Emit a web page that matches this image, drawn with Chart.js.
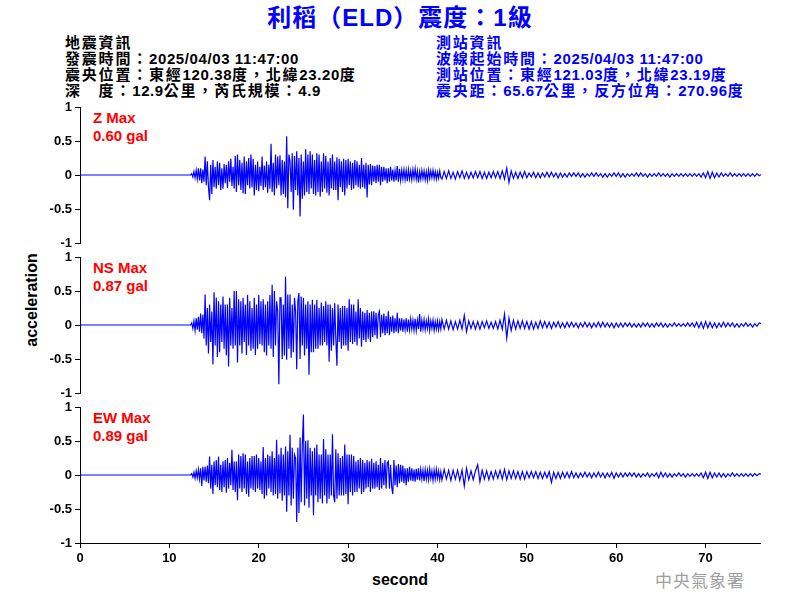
<!DOCTYPE html>
<html><head><meta charset="utf-8">
<script src="https://cdn.jsdelivr.net/npm/chart.js@4/dist/chart.umd.min.js"></script>
<style>
body{margin:0;background:#fff;}
#wrap{position:relative;width:800px;height:600px;overflow:hidden;background:#fff;font-family:"Liberation Sans",Arial,"Noto Sans CJK TC",sans-serif;}
.t{position:absolute;white-space:nowrap;}
.hd{font-size:15px;font-weight:bold;line-height:16px;letter-spacing:0.6px;}
.c{letter-spacing:1.8px;}
.red{color:#ff0000;font-size:15px;font-weight:bold;line-height:18px;left:93px;}
canvas{position:absolute;left:0;}
</style></head><body>
<div id="wrap">
<div class="t" style="left:0;width:800px;text-align:center;top:4px;font-size:24px;font-weight:bold;color:#0000ff;line-height:28px;letter-spacing:1px;">利稻（ELD）震度：1級</div>
<div class="t hd" style="left:65px;top:35px;color:#000;"><span class="c">地震資訊</span><br><span class="c">發震時間：</span>2025/04/03 11:47:00<br><span class="c">震央位置：東經</span>120.38<span class="c">度，北緯</span>23.20<span class="c">度</span><br><span class="c">深　度：</span>12.9<span class="c">公里，芮氏規模：</span>4.9</div>
<div class="t hd" style="left:436px;top:35px;color:#0000ff;"><span class="c">測站資訊</span><br><span class="c">波線起始時間：</span>2025/04/03 11:47:00<br><span class="c">測站位置：東經</span>121.03<span class="c">度，北緯</span>23.19<span class="c">度</span><br><span class="c">震央距：</span>65.67<span class="c">公里，反方位角：</span>270.96<span class="c">度</span></div>
<div class="t red" style="top:109px;">Z Max<br>0.60 gal</div>
<div class="t red" style="top:259px;">NS Max<br>0.87 gal</div>
<div class="t red" style="top:409px;">EW Max<br>0.89 gal</div>
<div class="t" style="left:32px;top:300px;transform:translate(-50%,-50%) rotate(-90deg);font-size:16px;font-weight:bold;">acceleration</div>
<div class="t" style="left:400px;top:580px;transform:translate(-50%,-50%);font-size:16px;font-weight:bold;">second</div>
<div class="t" style="left:655px;top:569px;font-size:17px;color:#a0a0a0;font-family:'Noto Sans CJK TC';letter-spacing:1px;line-height:22px;">中央氣象署</div>
<canvas id="c1" width="761" height="160" style="top:95px"></canvas>
<canvas id="c2" width="761" height="160" style="top:245px"></canvas>
<canvas id="c3" width="761" height="205" style="top:395px"></canvas>
</div>
<script>
// sample timing of the traces (seconds)
const EARLY_T0 = 12.5, EARLY_DT = 0.125;   // strong-motion part, 12.5 s .. 40.375 s
const LATE_T0 = 40.5, LATE_DT = 0.25;      // coda, 40.5 s .. 76.25 s
const X_MAX = 76.2;
const xTickValues = [0,10,20,30,40,50,60,70];
const yTickValues = [-1,-0.5,0,0.5,1];

// Z component (gal) — one group of 8 = one second
const zEarly = [
 .02,-.03,.05,-.04,.07,-.06,.1,-.08,  .1,-.12,.08,-.1,.27,-.15,.2,-.18,
 -.37,.15,-.28,.22,-.18,.12,-.2,.2,  -.15,.18,-.22,.1,-.2,.16,-.12,.15,
 -.19,.2,-.1,.24,-.16,.12,-.2,.28,  -.25,.3,-.15,.22,-.22,.18,-.27,.27,
 -.28,.2,-.15,.25,-.2,.3,-.18,.24,  -.3,.15,-.22,.2,-.24,.12,-.16,.27,
 -.22,.14,-.18,.2,-.26,.15,-.2,.46,  -.25,.18,-.3,.3,-.2,.27,-.15,.29,
 -.3,.22,-.28,.2,-.33,.57,-.49,.3,  .2,-.25,.32,-.51,.28,-.22,.35,-.3,
 .25,-.61,.3,-.35,.2,-.3,.38,-.25,  .3,-.28,.35,-.2,.3,-.28,.22,-.3,
 .32,-.25,.3,-.32,.2,-.25,.32,-.2,  .28,-.26,.2,-.3,.25,-.2,.3,-.22,
 .2,-.22,.26,-.37,.24,-.18,.2,-.25,  .24,-.3,.22,-.2,.24,-.15,.2,-.22,
 .18,-.2,.22,-.15,.2,-.18,.15,-.2,  .25,-.18,.15,-.2,.18,-.33,.15,-.14,
 .16,-.15,.14,-.1,.13,-.12,.15,-.1,  .15,-.15,.12,-.1,.12,-.08,.1,-.12,
 .1,-.1,.12,-.08,.08,-.1,.07,-.08,  .13,-.1,.09,-.08,.07,-.06,.08,-.07,
 .07,-.09,.08,-.06,.06,-.07,.08,-.05,  .09,-.06,.06,-.11,.05,-.06,.07,-.05,
 .06,-.07,.05,-.08,.07,-.05,.06,-.04,  .07,-.05,.05,-.06,.04,-.05,.06,-.04
];
const zLate = [
 -.06,.05,-.05,.06, -.05,.04,-.06,.05, -.04,.06,-.05,.04, -.05,.04,-.04,.05,
 -.04,.05,-.05,.04, -.05,.04,-.04,.05, -.04,.05,-.05,.06, -.06,.1,-.11,.06,
 -.05,.04,-.05,.04, -.04,.05,-.04,.03, -.03,.04,-.04,.03, -.04,.03,-.03,.04,
 -.03,.04,-.03,.03, -.04,.03,-.03,.02, -.03,.03,-.02,.03, -.02,.03,-.03,.02,
 -.03,.02,-.02,.03, -.02,.03,-.02,.02, -.03,.02,-.03,.02, -.02,.03,-.02,.03,
 -.03,.02,-.03,.02, -.02,.02,-.02,.03, -.02,.03,-.02,.02, -.03,.02,-.02,.02,
 -.02,.03,-.02,.02, -.02,.02,-.03,.02, -.02,.02,-.02,.02, -.02,.02,-.02,.02,
 -.02,.02,-.02,.02, -.03,.03,-.04,.05, -.05,.04,-.04,.03, -.03,.03,-.02,.02,
 -.02,.03,-.02,.02, -.02,.02,-.02,.02, -.02,.02,-.02,.02, -.02,.02,-.01,.01
];

// NS component (gal)
const nsEarly = [
 .03,-.05,.06,-.08,.1,-.07,.12,-.1,  .17,-.12,.15,-.2,.45,-.3,.25,-.42,
 .3,-.25,.2,-.58,.48,-.3,.4,-.47,  .35,-.4,.3,-.25,.42,-.35,.3,-.45,
 .3,-.61,.4,-.3,.25,-.35,.5,-.3,  .5,-.55,.38,-.3,.35,-.42,.4,-.25,
 .3,-.44,.44,-.3,.35,-.38,.25,-.35,  .4,-.44,.3,-.35,.44,-.28,.35,-.3,
 .38,-.4,.3,-.45,.35,-.3,.44,-.35,  .59,-.47,.5,-.3,.35,.2,-.87,.4,
 .4,-.5,.3,-.45,.71,-.51,.45,-.35,  .45,-.48,.3,-.4,.4,.2,-.65,.35,
 .47,-.5,.42,-.3,.4,-.45,.3,-.35,  .35,-.73,.3,-.4,.37,-.4,.3,-.35,
 .37,-.35,.25,-.3,.33,-.3,.28,-.25,  .35,-.3,.3,-.54,.3,-.38,.25,-.3,
 .32,-.2,-.6,.3,-.25,.25,-.35,.28,  -.3,.28,-.3,.25,-.38,.38,-.25,.3,
 -.28,.3,-.25,.2,-.3,.38,-.2,.25,  -.32,.2,-.22,.18,-.25,.22,-.2,.18,
 -.25,.2,-.18,.2,-.15,.18,-.2,.15,  .2,-.18,.15,-.12,.17,-.15,.13,-.12,
 .2,-.15,.12,-.1,.14,-.12,.1,-.1,  .18,-.12,.1,-.08,.1,-.1,.08,-.07,
 .1,-.1,.08,-.07,.09,-.06,.07,-.08,  .09,-.08,.07,-.06,.16,-.1,.07,-.06,
 .08,-.07,.06,-.05,.09,-.08,.06,-.05,  .07,-.08,.05,-.06,.06,-.07,.05,-.06
];
const nsLate = [
 .08,-.06,.07,-.06, .06,-.07,.05,-.06, .07,-.06,.14,-.1, .06,-.05,.05,-.06,
 .05,-.06,.05,-.04, .06,-.05,.04,-.05, .05,-.06,.07,-.06, .16,-.19,.1,-.08,
 .07,-.06,.06,-.05, .06,-.05,.05,-.06, .05,-.06,.04,-.05, .06,-.04,.05,-.04,
 .04,-.05,.04,-.03, .05,-.04,.03,-.04, .04,-.03,.04,-.03, .03,-.04,.03,-.03,
 .04,-.03,.03,-.04, .03,-.03,.04,-.03, .04,-.03,.03,-.03, .03,-.04,.03,-.03,
 .03,-.03,.03,-.02, .03,-.03,.02,-.03, .02,-.03,.03,-.02, .03,-.03,.02,-.03,
 .03,-.02,.03,-.03, .02,-.03,.02,-.02, .03,-.02,.02,-.02, .02,-.02,.03,-.02,
 .03,-.03,.04,-.04, .04,-.05,.05,-.04, .04,-.04,.03,-.04, .03,-.03,.04,-.03,
 .03,-.02,.03,-.03, .02,-.03,.02,-.02, .03,-.02,.02,-.03, .02,-.02,.03,.02
];

// EW component (gal)
const ewEarly = [
 .02,-.03,.04,-.05,.06,-.04,.08,-.06,  .1,-.16,.12,-.08,.12,-.1,.14,-.12,
 .27,-.2,.15,-.28,.2,-.15,.22,-.18,  .27,-.22,.15,-.25,.2,-.18,.22,-.26,
 .25,-.2,.18,-.15,.37,-.22,.2,-.25,  .2,-.37,.3,-.2,.28,-.25,.32,-.2,
 .3,-.28,.2,-.32,.25,-.2,.28,-.22,  .28,-.25,.3,-.2,.25,-.22,.2,-.28,
 .41,-.35,.25,-.3,.3,-.2,.28,-.25,  .35,-.3,.25,-.28,.52,-.35,.3,-.27,
 .4,-.38,.3,-.3,.42,-.54,.35,-.3,  .59,-.45,.4,-.35,.3,.25,-.69,.4,
 -.56,.55,-.4,.45,.89,-.45,.5,-.35,  .51,-.48,.4,-.3,.35,-.59,.4,-.3,
 .45,-.4,.3,-.35,.3,-.42,.53,-.3,  .38,-.42,.3,-.35,.3,-.3,.6,-.3,
 -.4,.38,-.35,.32,-.3,.25,-.3,.28,  -.3,.45,-.28,.3,-.43,.3,-.25,.3,
 -.3,.28,-.25,.2,-.25,.22,-.2,.25,  -.28,.22,-.25,.18,-.2,.22,-.18,.2,
 -.25,.24,-.2,.18,-.2,.2,-.18,.15,  -.22,.25,-.2,.18,-.15,.22,-.2,.18,
 .2,-.2,.15,-.18,-.28,.22,-.15,.14,  -.18,.16,-.12,.15,-.1,.14,-.12,.1,
 -.15,.1,-.1,.12,-.08,.1,-.09,.08,  -.1,.09,-.07,.1,-.08,.08,-.06,.07,
 -.09,.08,-.06,.07,-.07,.09,-.05,.06,  -.08,.07,-.06,.08,-.05,.06,-.07,.05
];
const ewLate = [
 -.07,.08,-.06,.07, -.08,.07,-.06,.07, -.08,.07,-.16,.1, -.07,.06,-.07,.06,
 .15,-.1,.07,-.06, .06,-.07,.05,-.06, .06,-.05,.07,-.06, .08,-.07,.06,-.05,
 .06,-.05,.05,-.06, .05,-.06,.05,-.04, .05,-.04,.05,-.05, .04,-.05,.04,-.04,
 .05,-.11,.04,-.05, .04,-.05,.04,-.04, .04,-.04,.05,-.04, .03,-.04,.03,-.03,
 .04,-.03,.03,-.04, .03,-.03,.04,-.03, .03,-.04,.03,-.03, .04,-.05,.03,-.03,
 .03,-.03,.03,-.02, .03,-.02,.03,-.03, .02,-.03,.02,-.02, .03,-.03,.02,-.02,
 .03,-.04,.04,-.03, .03,-.03,.02,-.03, .02,-.02,.03,-.02, .02,-.03,.02,-.02,
 .02,-.02,.02,-.02, .03,-.04,.04,-.05, .04,-.04,.03,-.03, .03,-.03,.02,-.03,
 .02,-.02,.03,-.02, .02,-.02,.02,-.02, .02,-.02,.02,-.02, .02,-.01,.02,.01
];

const TRACE_COLOR = '#0000ff';
const TICK_FONT = {family:'"Liberation Sans", Arial, sans-serif', size:13, weight:'bold'};

function toPoints(early, late){
  const pts = [{x:0,y:0},{x:EARLY_T0-EARLY_DT,y:0}];
  early.forEach((v,i)=>pts.push({x:EARLY_T0+i*EARLY_DT, y:v}));
  late.forEach((v,i)=>pts.push({x:LATE_T0+i*LATE_DT, y:v}));
  return pts;
}

function makeChart(id, early, late, showX){
  const ctx = document.getElementById(id);
  const xScale = {type:'linear', min:0, max:X_MAX, display:showX,
     afterBuildTicks:(s)=>{ s.ticks = xTickValues.map(v=>({value:v})); },
     grid:{display:true, drawOnChartArea:false, drawTicks:true, tickLength:5, color:'#000'},
     border:{display:true, color:'#000', width:1},
     ticks:{color:'#000', font:TICK_FONT, padding:3, maxRotation:0, callback:(v)=>String(v)}};
  if (showX) xScale.afterFit = (s)=>{ s.height = 57; };
  return new Chart(ctx, {
    type:'line',
    data:{datasets:[{data:toPoints(early, late), borderColor:TRACE_COLOR, borderWidth:1.2, pointRadius:0, tension:0, fill:false}]},
    options:{
      responsive:false, animation:false, events:[],
      layout:{padding:{top:12, bottom: showX ? 0 : 12, left:0, right:0}},
      plugins:{legend:{display:false}, tooltip:{enabled:false}},
      scales:{
        x:xScale,
        y:{type:'linear', min:-1, max:1,
           afterFit:(s)=>{ s.width = 80; },
           afterBuildTicks:(s)=>{ s.ticks = yTickValues.map(v=>({value:v})); },
           grid:{display:true, drawOnChartArea:false, drawTicks:true, tickLength:5, color:'#000'},
           border:{display:true, color:'#000', width:1},
           ticks:{color:'#000', font:TICK_FONT, padding:3, callback:(v)=>String(v)}}
      }
    }
  });
}

makeChart('c1', zEarly, zLate, false);
makeChart('c2', nsEarly, nsLate, false);
makeChart('c3', ewEarly, ewLate, true);
</script>
</body></html>
